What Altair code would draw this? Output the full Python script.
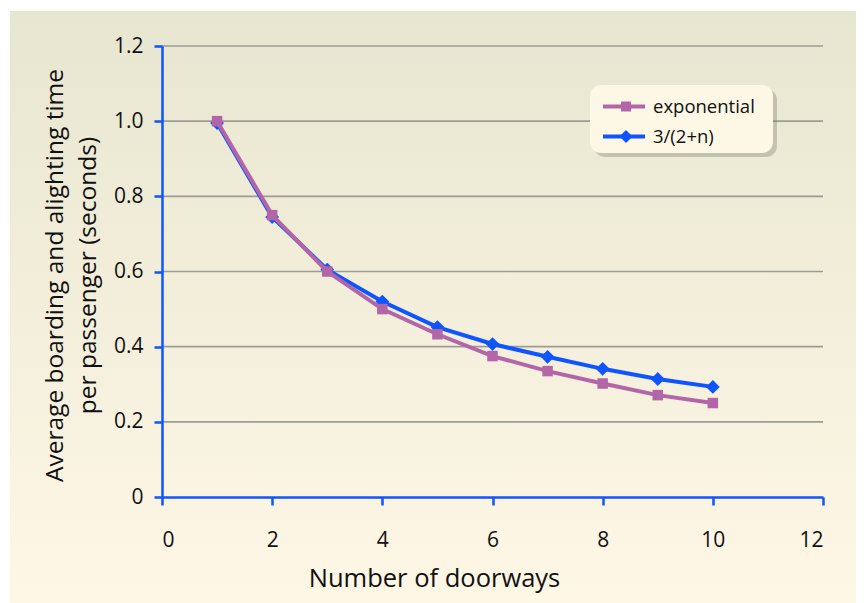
import altair as alt
import pandas as pd

doorways = [1, 2, 3, 4, 5, 6, 7, 8, 9, 10]
exponential = [1.0, 0.75, 0.60, 0.50, 0.433, 0.375, 0.335, 0.302, 0.271, 0.25]
hyperbolic = [0.995, 0.745, 0.605, 0.52, 0.452, 0.407, 0.373, 0.341, 0.314, 0.293]
series_names = ["exponential", "3/(2+n)"]
grid_values = [0.2, 0.4, 0.6, 0.8, 1.0, 1.2]
x_ticks = [0, 2, 4, 6, 8, 10, 12]
y_ticks = [0, 0.2, 0.4, 0.6, 0.8, 1.0, 1.2]

PINK = "#b266a8"
BLUE = "#0f55ff"
FONT = "Open Sans"
W, H = 661, 451

df = pd.DataFrame({
    "n": doorways * 2,
    "t": exponential + hyperbolic,
    "series": [series_names[0]] * 10 + [series_names[1]] * 10,
})
grid_df = pd.DataFrame({"g": grid_values})
one = pd.DataFrame({"a": [0]})

xscale = alt.Scale(domain=[0, 12], nice=False)
yscale = alt.Scale(domain=[0, 1.2], nice=False)

xaxis = alt.Axis(values=x_ticks, title="Number of doorways", grid=False, zindex=2,
                 titleX=272, titleY=89, titleBaseline="alphabetic",
                 titleAlign="center", labelPadding=24, format="d")
yaxis = alt.Axis(values=y_ticks, title=["Average boarding and alighting time", "per passenger (seconds)"],
                 grid=False, zindex=2, titleX=-100, titleY=229, titleBaseline="alphabetic",
                 titleAlign="center", titleLineHeight=33, labelPadding=11,
                 labelExpr="datum.value == 0 ? '0' : format(datum.value, '.1f')")

bg = alt.Chart(one).mark_rect(
    fill=alt.Gradient(gradient="linear", x1=0, y1=0, x2=0, y2=1,
                      stops=[alt.GradientStop(color="#e7e6d0", offset=0),
                             alt.GradientStop(color="#fff7e6", offset=1)])
).encode(x=alt.value(-152), x2=alt.value(694), y=alt.value(-35), y2=alt.value(557))

grid = alt.Chart(grid_df).mark_rule(color="#9c9c94", strokeWidth=1.6).encode(
    y=alt.Y("g:Q", scale=yscale, axis=yaxis))

def series_layers(name, color, shape, size):
    base = alt.Chart(df).transform_filter(alt.datum.series == name)
    line = base.mark_line(color=color, strokeWidth=4).encode(
        x=alt.X("n:Q", scale=xscale, axis=xaxis),
        y=alt.Y("t:Q", scale=yscale, axis=yaxis))
    pts = base.mark_point(color=color, fill=color, filled=True, opacity=1, shape=shape, size=size).encode(
        x=alt.X("n:Q", scale=xscale, axis=xaxis), y=alt.Y("t:Q", scale=yscale, axis=yaxis))
    return [line, pts]

# legend (manual)
shadow = alt.Chart(one).mark_rect(fill="#7a7a6a", opacity=0.35, cornerRadius=11).encode(
    x=alt.value(432), x2=alt.value(615), y=alt.value(43), y2=alt.value(111))
box = alt.Chart(one).mark_rect(fill="#fdf8e6", cornerRadius=11).encode(
    x=alt.value(428), x2=alt.value(611), y=alt.value(39), y2=alt.value(107))

def legend_row(name, color, shape, size, yy):
    r = alt.Chart(one).mark_rule(color=color, strokeWidth=4).encode(
        x=alt.value(441), x2=alt.value(483), y=alt.value(yy))
    p = alt.Chart(one).mark_point(color=color, fill=color, filled=True, opacity=1, shape=shape, size=size).encode(
        x=alt.value(464), y=alt.value(yy))
    t = alt.Chart(one).mark_text(text=name, font=FONT, fontSize=18.5, color="#111111",
                                 align="left", baseline="middle").encode(
        x=alt.value(491), y=alt.value(yy))
    return [r, p, t]

layers = [bg, grid]
layers += series_layers(series_names[1], BLUE, "diamond", 190)
layers += series_layers(series_names[0], PINK, "square", 110)
layers += [shadow, box]
layers += legend_row(series_names[0], PINK, "square", 100, 60.5)
layers += legend_row(series_names[1], BLUE, "diamond", 170, 90.5)

chart = alt.layer(*layers).properties(
    width=W, height=H, padding={"left": 2, "top": 3, "right": 0, "bottom": 0},
    background="#ffffff"
).configure_view(stroke=None).configure_axis(
    domainColor=BLUE, domainWidth=2.5, tickColor=BLUE, tickWidth=2.5, tickSize=8,
    labelFont=FONT, labelFontSize=21, labelColor="#111111",
    titleFont=FONT, titleFontSize=24.5, titleColor="#111111", titleFontWeight="normal"
).configure_axisX(titleFontSize=25.5)

chart.save("out.html", embed_options={"renderer": "svg", "actions": False})
